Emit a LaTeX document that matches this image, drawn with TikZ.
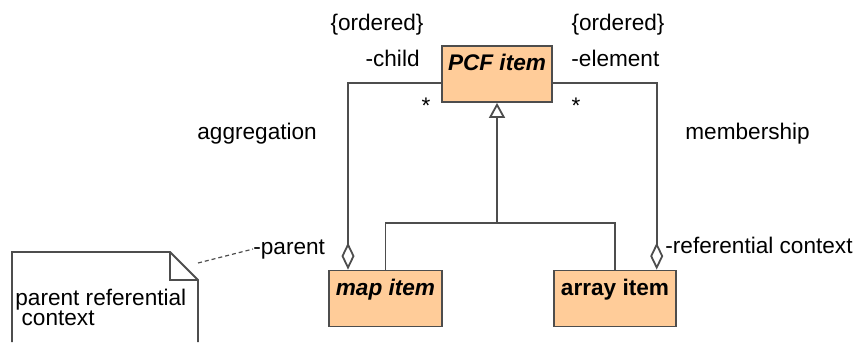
\documentclass[tikz,border=0pt]{standalone}
\usepackage{fontspec}
\setmainfont{Liberation Sans}
\usepackage{tikz}
\usetikzlibrary{positioning, arrows.meta, calc}
\definecolor{clsfill}{HTML}{FFCC99}
\definecolor{linegray}{HTML}{4D4D4D}

\begin{document}
\begin{tikzpicture}[x=0.5pt, y=-0.5pt,
  txt/.style={font=\fontsize{11.3}{10}\selectfont, inner sep=0pt, anchor=base},
  cls/.style={draw=linegray, line width=0.9pt, fill=clsfill, minimum height=28pt,
    inner xsep=0pt, inner ysep=2pt, text height=10.5pt, text depth=13.5pt,
    font=\fontsize{11.3}{10}\selectfont\bfseries},
  line/.style={draw=linegray, line width=0.9pt},
  aggr/.style={line, {Diamond[open, length=13.5pt, width=6.5pt]}-},
  inherit/.style={line, -{Triangle[open, length=7.5pt, width=8pt]}}
]
\useasboundingbox (0,0) rectangle (855,342);

% Classes
\node[cls, minimum width=55pt] (pcf) at (497,74) {\itshape PCF item};
\node[cls, minimum width=56.5pt] (map) at (385.5,298.5) {\itshape map item};
\node[cls, minimum width=61pt] (array) at (615,298.5) {array item};

% Generalization
\coordinate (fork) at (497,223);
\draw[line] (map.north) |- (fork) -| (array.north);
\draw[inherit] (fork) -- (pcf.south);

% Aggregations
\coordinate (mapagg) at ([xshift=-18.75pt]map.north);
\coordinate (arragg) at ([xshift=20.85pt]array.north);
\draw[aggr] (mapagg) |- ([yshift=-4.5pt]pcf.west);
\draw[aggr] (arragg) |- ([yshift=-4.5pt]pcf.east);

% Role labels
\node[txt] (ordl) at (377,31) {\{ordered\}};
\node[txt] (ordr) at (618,31) {\{ordered\}};
\node[txt, anchor=base east] (child) at (420,67) {-child};
\node[txt, anchor=base west] (elem) at (571,67) {-element};
\node[txt] (multl) at (426,113) {*};
\node[txt] (multr) at (576,113) {*};
\node[txt, anchor=base west] (aggl) at (197,140) {aggregation};
\node[txt, anchor=base west] (memb) at (685,140) {membership};
\node[txt, anchor=base west] (parent) at (253,254) {-parent};
\node[txt, anchor=base west] (refctx) at (665,253) {-referential context};

% Note
\draw[line] (12,342) |- (170,252) -- (198,280) -- (198,342);
\draw[line] (170,252) |- (198,280);
\node[txt, anchor=north west, align=left] (note) at (15,289)
  {parent referential\\\ context};
\coordinate (notetip) at (198,263);
\draw[line, line width=0.6pt, dash pattern=on 2pt off 1.5pt] (notetip) -- (parent.west);

\end{tikzpicture}
\end{document}
